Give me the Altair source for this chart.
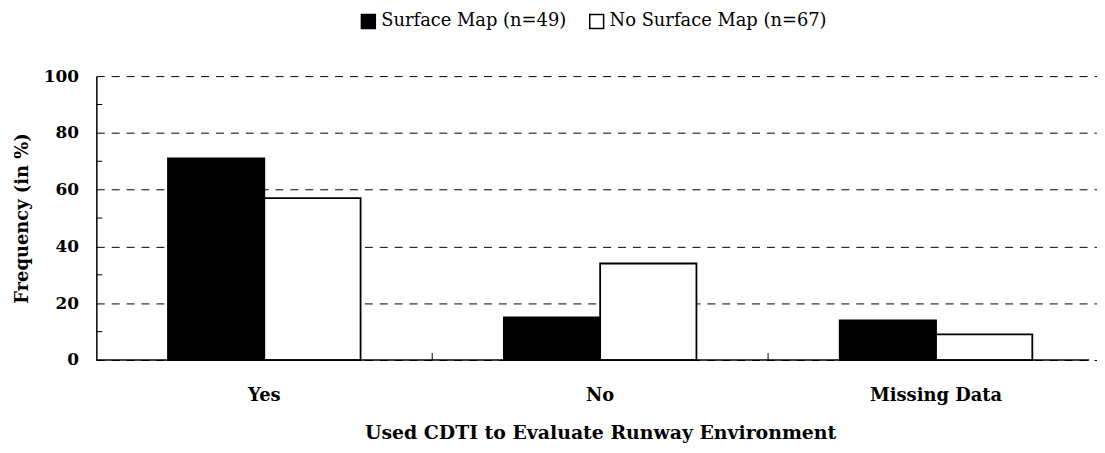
import altair as alt
import pandas as pd

categories = ["Yes", "No", "Missing Data"]
series_names = ["Surface Map (n=49)", "No Surface Map (n=67)"]
surface_map = [71, 15, 14]
no_surface_map = [57, 34, 9]
y_major = [0, 20, 40, 60, 80, 100]
y_minor = [10, 30, 50, 70, 90]

rows = []
for c, a, b in zip(categories, surface_map, no_surface_map):
    rows.append({"cat": c, "series": series_names[0], "value": a})
    rows.append({"cat": c, "series": series_names[1], "value": b})
df = pd.DataFrame(rows)

FONT = "DejaVu Serif"
W, H = 1000, 286

xscale = alt.Scale(domain=categories, range=[0, 1015], paddingInner=0, paddingOuter=0)
yscale = alt.Scale(domain=[0, 100], nice=False)

bars = alt.Chart(df).mark_bar(stroke="black", strokeWidth=1.8).encode(
    x=alt.X("cat:N", sort=categories, scale=xscale,
            axis=alt.Axis(title="Used CDTI to Evaluate Runway Environment", labelAngle=0,
                          tickSize=0, labelPadding=27, titlePadding=19, domain=False,
                          labelFont=FONT, labelFontSize=18, labelFontWeight="bold", labelColor="black",
                          titleFont=FONT, titleFontSize=19, titleFontWeight="bold", titleColor="black")),
    xOffset=alt.XOffset("series:N", sort=series_names,
                        scale=alt.Scale(paddingInner=0, paddingOuter=0.744)),
    y=alt.Y("value:Q", scale=yscale,
            axis=alt.Axis(title="Frequency (in %)", values=y_major, tickSize=0, labelPadding=18,
                          grid=True, gridDash=[8, 7], gridColor="black", gridWidth=1,
                          domainColor="black", domainWidth=1.5, titlePadding=12,
                          labelFont=FONT, labelFontSize=17, labelFontWeight="bold", labelColor="black",
                          titleFont=FONT, titleFontSize=18, titleFontWeight="bold", titleColor="black")),
    color=alt.Color("series:N", sort=series_names,
                    scale=alt.Scale(domain=series_names, range=["black", "white"]),
                    legend=alt.Legend(title=None, orient="none", legendX=265, legendY=-64,
                                      direction="horizontal", symbolType="square", symbolSize=196,
                                      symbolStrokeColor="black", symbolStrokeWidth=1.5,
                                      labelFont=FONT, labelFontSize=18, labelColor="black",
                                      labelLimit=0, labelOffset=4, columnPadding=20)),
)

baseline = alt.Chart(pd.DataFrame({"v": [0]})).mark_rule(color="black", strokeWidth=1.5).encode(
    x=alt.value(0), x2=alt.value(W), y=alt.Y("v:Q", scale=yscale)
)

minor = alt.Chart(pd.DataFrame({"v": y_minor})).mark_rule(color="black", strokeWidth=1).encode(
    x=alt.value(0), x2=alt.value(6), y=alt.Y("v:Q", scale=yscale)
)

xticks = alt.Chart(pd.DataFrame({"cat": categories[1:]})).mark_rule(color="black", strokeWidth=1).encode(
    x=alt.X("cat:N", sort=categories, bandPosition=0),
    y=alt.value(H - 7), y2=alt.value(H)
)

chart = alt.layer(bars, baseline, minor, xticks).properties(
    width=W, height=H,
    autosize=alt.AutoSizeParams(type="none"),
    padding={"left": 89, "top": 67, "right": 8, "bottom": 84},
).configure(font=FONT).configure_view(stroke=None)

chart.save("out.html", embed_options={"renderer": "svg", "actions": False})
